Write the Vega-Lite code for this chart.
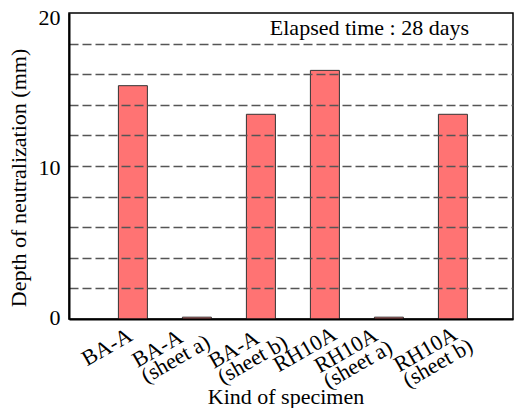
{
  "$schema": "https://vega.github.io/schema/vega-lite/v6.json",
  "width": 444,
  "height": 306,
  "autosize": {"type": "none"},
  "padding": {"left": 69, "top": 13, "right": 2, "bottom": 89},
  "background": "white",
  "config": {
    "view": {"stroke": "#000", "strokeWidth": 1.5},
    "font": "Liberation Serif"
  },
  "data": {
    "values": [
      {"kind": "BA-A", "depth": 15.25},
      {"kind": "BA-A (sheet a)", "depth": 0.12},
      {"kind": "BA-A (sheet b)", "depth": 13.38},
      {"kind": "RH10A", "depth": 16.25},
      {"kind": "RH10A (sheet a)", "depth": 0.12},
      {"kind": "RH10A (sheet b)", "depth": 13.38}
    ]
  },
  "layer": [
    {
      "mark": {"type": "bar", "fill": "#ff7373", "stroke": "#333", "strokeWidth": 1},
      "encoding": {
        "x": {
          "field": "kind",
          "type": "nominal",
          "sort": null,
          "scale": {"paddingInner": 0.547, "paddingOuter": 0.742, "align": 0.52},
          "axis": {
            "title": "Kind of specimen",
            "titleFont": "Liberation Serif",
            "titleFontSize": 22,
            "titleFontWeight": "normal",
            "titleColor": "#000",
            "titleX": 216.5,
            "titleY": 84,
            "titleBaseline": "alphabetic",
            "titleAlign": "center",
            "labelFont": "Liberation Serif",
            "labelFontSize": 22,
            "labelColor": "#000",
            "labelAngle": -30,
            "labelAlign": "left",
            "labelBaseline": "middle",
            "labelLineHeight": 18,
            "labelOverlap": false,
            "labelBound": false,
            "labelFlush": false,
            "labelExpr": "indexof(datum.label, ' (') > 0 ? [substring(datum.label, 0, indexof(datum.label, ' (')), substring(datum.label, indexof(datum.label, ' (') + 1)] : datum.label",
            "labelOffset": {
              "condition": [
                {"test": "datum.value === 'BA-A'", "value": -49.3},
                {"test": "datum.value === 'BA-A (sheet a)'", "value": -62.8},
                {"test": "datum.value === 'BA-A (sheet b)'", "value": -50.5},
                {"test": "datum.value === 'RH10A'", "value": -49.6},
                {"test": "datum.value === 'RH10A (sheet a)'", "value": -72.6}
              ],
              "value": -57.1
            },
            "labelPadding": {
              "condition": [
                {"test": "datum.value === 'BA-A'", "value": 41},
                {"test": "datum.value === 'BA-A (sheet a)'", "value": 42.5},
                {"test": "datum.value === 'BA-A (sheet b)'", "value": 43.5},
                {"test": "datum.value === 'RH10A'", "value": 47},
                {"test": "datum.value === 'RH10A (sheet a)'", "value": 48}
              ],
              "value": 47
            },
            "ticks": false,
            "domainColor": "#000",
            "domainWidth": 2,
            "grid": false,
            "zindex": 1
          }
        },
        "y": {
          "field": "depth",
          "type": "quantitative",
          "scale": {"domain": [0, 20], "nice": false},
          "axis": {
            "title": "Depth of neutralization (mm)",
            "titleFont": "Liberation Serif",
            "titleFontSize": 22,
            "titleFontWeight": "normal",
            "titleColor": "#000",
            "titleX": -44,
            "titleY": 164.5,
            "titleAngle": -90,
            "titleBaseline": "alphabetic",
            "titleAlign": "center",
            "values": [0, 2, 4, 6, 8, 10, 12, 14, 16, 18, 20],
            "tickCount": 30,
            "format": ".0f",
            "labelExpr": "datum.value % 10 === 0 ? datum.label : ''",
            "labelFont": "Liberation Serif",
            "labelFontSize": 22,
            "labelColor": "#000",
            "labelPadding": 9,
            "labelFlush": false,
            "labelOverlap": false,
            "labelOffset": {
              "condition": [
                {"test": "datum.value === 20", "value": 4.5},
                {"test": "datum.value === 0", "value": -1.5}
              ],
              "value": 1
            },
            "ticks": false,
            "grid": true,
            "gridDash": [9, 4],
            "gridColor": "#555",
            "gridWidth": 1.3,
            "gridOpacity": {
              "condition": {"test": "datum.value === 0 || datum.value === 20", "value": 0},
              "value": 1
            },
            "domainColor": "#000",
            "domainWidth": 2,
            "zindex": 1
          }
        }
      }
    },
    {
      "data": {"values": [{"note": "Elapsed time : 28 days", "kind": "RH10A (sheet a)", "depth": 18.56}]},
      "mark": {
        "type": "text",
        "font": "Liberation Serif",
        "fontSize": 22,
        "fontWeight": "normal",
        "fill": "#000",
        "align": "center",
        "baseline": "alphabetic",
        "dx": -19.5
      },
      "encoding": {
        "x": {"field": "kind", "type": "nominal", "sort": null},
        "y": {"field": "depth", "type": "quantitative"},
        "text": {"field": "note"}
      }
    }
  ]
}
